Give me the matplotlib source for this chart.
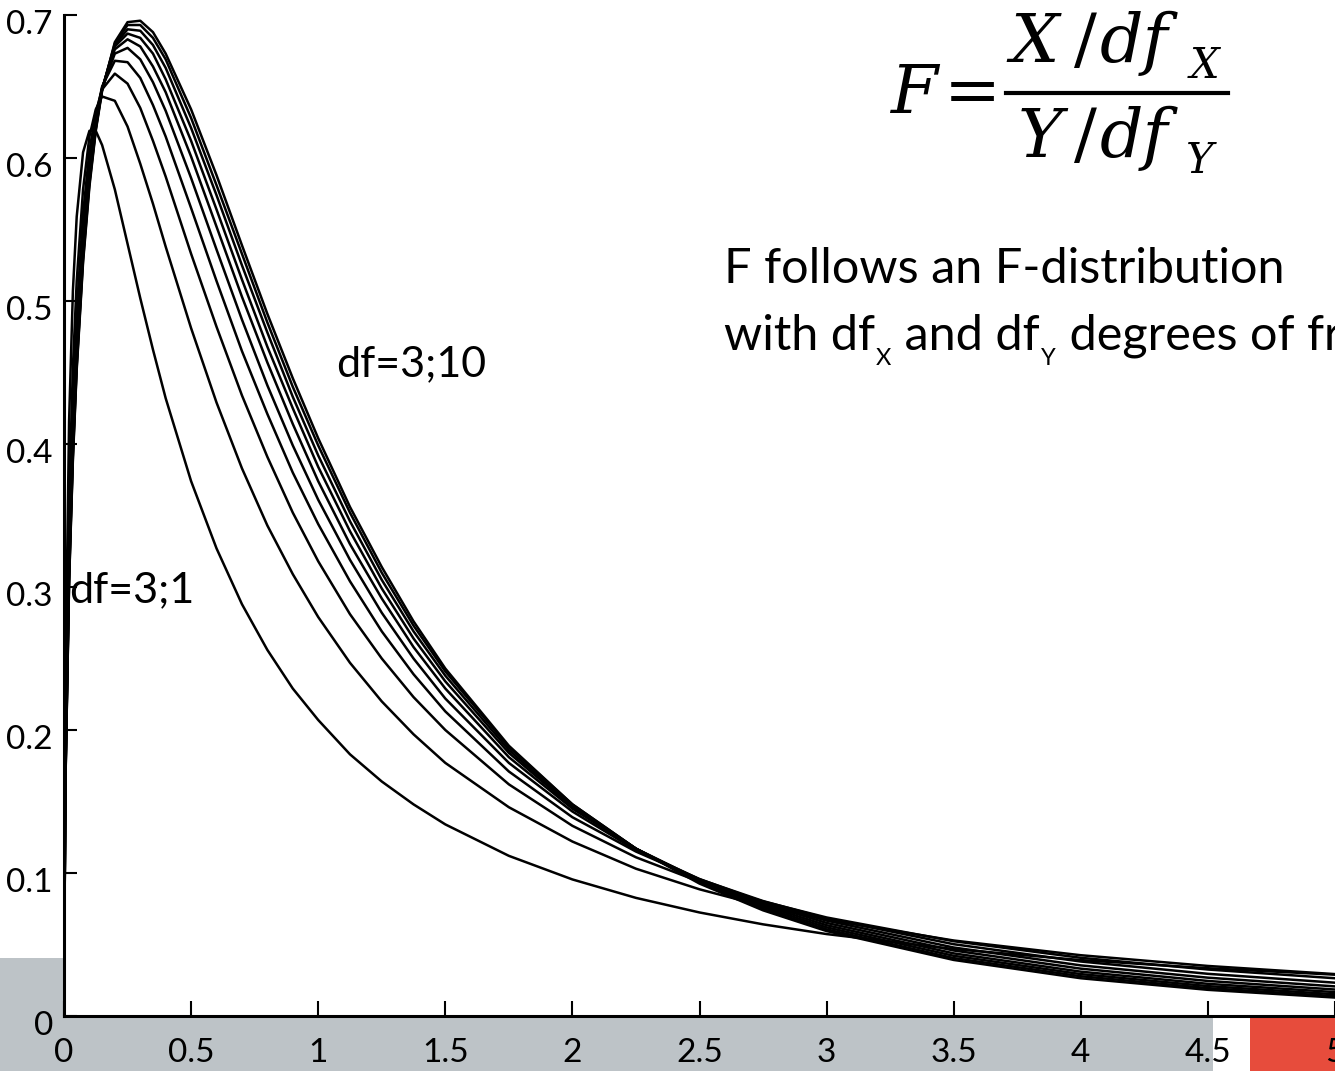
import matplotlib
matplotlib.use("Agg")
import matplotlib.pyplot as plt
import matplotlib.transforms as mtransforms
from matplotlib.patches import Rectangle
from matplotlib.lines import Line2D

plt.rcParams['font.family'] = ['Lato', 'DejaVu Sans']

# F-distribution densities, df1 = 3 and df2 = 1..10
x_vals = [0, 0.005, 0.02, 0.035, 0.05, 0.075, 0.1, 0.125, 0.15, 0.2, 0.25, 0.3, 0.35, 0.4,
          0.5, 0.6, 0.7, 0.8, 0.9, 1.0, 1.125, 1.25, 1.375, 1.5, 1.75, 2.0, 2.25, 2.5,
          2.75, 3.0, 3.5, 4.0, 4.5, 5.0]

f_3_1 = [0, 0.227, 0.416, 0.507, 0.559, 0.604, 0.619, 0.619, 0.609, 0.578, 0.540, 0.502,
         0.466, 0.432, 0.374, 0.327, 0.288, 0.256, 0.229, 0.207, 0.183, 0.164, 0.148, 0.134,
         0.112, 0.0955, 0.0826, 0.0724, 0.0641, 0.0573, 0.0468, 0.0391, 0.0334, 0.0289]
f_3_2 = [0, 0.191, 0.362, 0.454, 0.514, 0.578, 0.615, 0.634, 0.643, 0.640, 0.622, 0.596,
         0.568, 0.538, 0.481, 0.429, 0.383, 0.343, 0.309, 0.279, 0.247, 0.220, 0.197, 0.177,
         0.146, 0.122, 0.103, 0.0886, 0.0769, 0.0673, 0.0528, 0.0425, 0.0350, 0.0293]
f_3_3 = [0, 0.177, 0.339, 0.430, 0.492, 0.561, 0.605, 0.632, 0.648, 0.659, 0.652, 0.635,
         0.612, 0.587, 0.533, 0.482, 0.434, 0.391, 0.352, 0.318, 0.281, 0.250, 0.223, 0.200,
         0.162, 0.133, 0.111, 0.0939, 0.0801, 0.0689, 0.0523, 0.0407, 0.0325, 0.0264]
f_3_4 = [0, 0.170, 0.327, 0.416, 0.479, 0.551, 0.598, 0.629, 0.650, 0.668, 0.667, 0.656,
         0.637, 0.615, 0.565, 0.514, 0.465, 0.421, 0.380, 0.344, 0.304, 0.269, 0.239, 0.213,
         0.171, 0.139, 0.115, 0.0956, 0.0804, 0.0682, 0.0502, 0.0381, 0.0295, 0.0233]
f_3_5 = [0, 0.165, 0.319, 0.408, 0.470, 0.544, 0.593, 0.627, 0.649, 0.673, 0.677, 0.669,
         0.653, 0.633, 0.586, 0.536, 0.487, 0.441, 0.399, 0.361, 0.319, 0.282, 0.250, 0.222,
         0.177, 0.143, 0.116, 0.0958, 0.0796, 0.0667, 0.0479, 0.0354, 0.0268, 0.0207]
f_3_6 = [0, 0.162, 0.314, 0.402, 0.464, 0.538, 0.589, 0.625, 0.649, 0.676, 0.683, 0.678,
         0.664, 0.646, 0.601, 0.552, 0.503, 0.457, 0.414, 0.374, 0.330, 0.292, 0.258, 0.229,
         0.181, 0.145, 0.117, 0.0954, 0.0785, 0.0651, 0.0458, 0.0331, 0.0245, 0.0185]
f_3_7 = [0, 0.160, 0.310, 0.397, 0.460, 0.535, 0.586, 0.623, 0.648, 0.678, 0.687, 0.684,
         0.673, 0.655, 0.612, 0.564, 0.515, 0.468, 0.425, 0.384, 0.339, 0.299, 0.264, 0.234,
         0.184, 0.146, 0.117, 0.0948, 0.0773, 0.0635, 0.0438, 0.0310, 0.0225, 0.0167]
f_3_8 = [0, 0.158, 0.307, 0.394, 0.456, 0.532, 0.584, 0.621, 0.648, 0.679, 0.690, 0.689,
         0.679, 0.663, 0.621, 0.574, 0.525, 0.478, 0.433, 0.392, 0.346, 0.305, 0.269, 0.238,
         0.186, 0.147, 0.117, 0.0940, 0.0761, 0.0620, 0.0421, 0.0293, 0.0209, 0.0152]
f_3_9 = [0, 0.157, 0.304, 0.391, 0.454, 0.529, 0.582, 0.620, 0.648, 0.680, 0.693, 0.693,
         0.684, 0.669, 0.628, 0.581, 0.533, 0.485, 0.440, 0.399, 0.352, 0.310, 0.273, 0.241,
         0.188, 0.148, 0.117, 0.0933, 0.0749, 0.0606, 0.0405, 0.0278, 0.0195, 0.0139]
f_3_10 = [0, 0.156, 0.303, 0.389, 0.452, 0.527, 0.580, 0.619, 0.647, 0.681, 0.695, 0.696,
          0.688, 0.673, 0.634, 0.588, 0.539, 0.491, 0.446, 0.404, 0.356, 0.314, 0.276, 0.243,
          0.189, 0.148, 0.117, 0.0926, 0.0739, 0.0594, 0.0392, 0.0264, 0.0183, 0.0129]

x_ticks = [0, 0.5, 1, 1.5, 2, 2.5, 3, 3.5, 4, 4.5, 5]
x_tick_labels = ["0", "0.5", "1", "1.5", "2", "2.5", "3", "3.5", "4", "4.5", "5"]
y_ticks = [0, 0.1, 0.2, 0.3, 0.4, 0.5, 0.6, 0.7]
y_tick_labels = ["0", "0.1", "0.2", "0.3", "0.4", "0.5", "0.6", "0.7"]

W, H = 1335, 1071
fig = plt.figure(figsize=(W / 100, H / 100), dpi=100)
fig.patch.set_facecolor("white")

# slide decorations behind the plot
fig.add_artist(Rectangle((0, 0), 1213 / W, 113 / H, transform=fig.transFigure,
                         facecolor="#bdc3c7", edgecolor="none", zorder=-2))
fig.add_artist(Rectangle((1250 / W, 0), 85 / W, 54 / H, transform=fig.transFigure,
                         facecolor="#e74c3c", edgecolor="none", zorder=-2))

ax = fig.add_axes([64 / W, 55 / H, 1 - 64 / W, 1001 / H])
ax.set_facecolor("white")

curves = [f_3_1, f_3_2, f_3_3, f_3_4, f_3_5, f_3_6, f_3_7, f_3_8, f_3_9, f_3_10]
for dens in curves:
    ax.plot(x_vals, dens, color="black", lw=1.8)

ax.set_xlim(0, 5.0)
ax.set_ylim(0, 0.7)
ax.spines["top"].set_visible(False)
ax.spines["right"].set_visible(False)
ax.spines["left"].set_linewidth(2.2)
ax.spines["bottom"].set_linewidth(2.2)

ax.set_xticks(x_ticks)
ax.set_xticklabels(x_tick_labels)
ax.set_yticks(y_ticks)
ax.set_yticklabels(y_tick_labels)
ax.tick_params(axis="x", direction="in", length=11, width=1.5, pad=16, labelsize=24)
ax.tick_params(axis="y", direction="in", length=9, width=1.5, pad=8, labelsize=24)

offset = mtransforms.ScaledTranslation(0, -7 / 100, fig.dpi_scale_trans)
for lab in ax.get_yticklabels():
    lab.set_transform(lab.get_transform() + offset)

ax.text(1.071, 0.4476, "df=3;10", fontsize=31, va="baseline")
ax.text(0.02, 0.2895, "df=3;1", fontsize=31, va="baseline")

# explanation text, second line built piece by piece for the small subscripts
fig.text(724 / W, 1 - 283 / H, "F follows an F-distribution", fontsize=35, va="baseline")
renderer = fig.canvas.get_renderer()
pieces = [("with df", 35, 0), ("X", 17, 15), (" and df", 35, 0), ("Y", 17, 15),
          (" degrees of freedom", 35, 0)]
xpos = 724
for txt, size, drop in pieces:
    t = fig.text(xpos / W, 1 - (350 + drop) / H, txt, fontsize=size, va="baseline")
    xpos = t.get_window_extent(renderer).x1 + 1

# formula F = (X/df_X) / (Y/df_Y)
serif = "DejaVu Serif"
fig.text(890 / W, 1 - 113 / H, "F", fontsize=49, family=serif, style="italic", va="baseline")
fig.text(944 / W, 1 - 113 / H, "=", fontsize=49, family=serif, va="baseline")
fig.add_artist(Line2D([1006 / W, 1228 / W], [1 - 93 / H, 1 - 93 / H],
                      transform=fig.transFigure, color="black", lw=3))
fig.text(1010 / W, 1 - 62 / H, "X", fontsize=49, family=serif, style="italic", va="baseline")
fig.text(1074 / W, 1 - 62 / H, "/", fontsize=49, family=serif, va="baseline")
fig.text(1100 / W, 1 - 62 / H, "df", fontsize=49, family=serif, style="italic", va="baseline")
fig.text(1190 / W, 1 - 78 / H, "X", fontsize=30, family=serif, style="italic", va="baseline")
fig.text(1018 / W, 1 - 157 / H, "Y", fontsize=49, family=serif, style="italic", va="baseline")
fig.text(1074 / W, 1 - 157 / H, "/", fontsize=49, family=serif, va="baseline")
fig.text(1100 / W, 1 - 157 / H, "df", fontsize=49, family=serif, style="italic", va="baseline")
fig.text(1186 / W, 1 - 173 / H, "Y", fontsize=30, family=serif, style="italic", va="baseline")

fig.savefig("out.png", dpi=100)
